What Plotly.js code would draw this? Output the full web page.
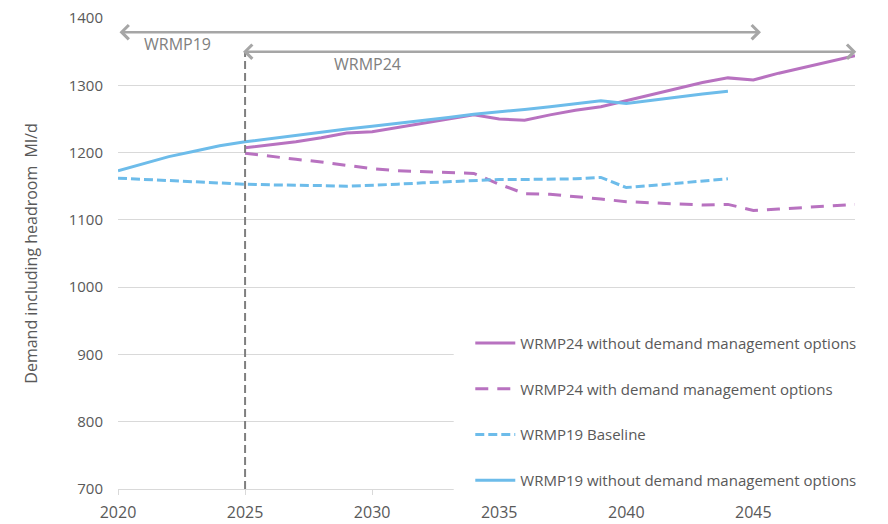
<!DOCTYPE html>
<html>
<head>
<meta charset="utf-8">
<script src="https://cdn.plot.ly/plotly-3.0.1.min.js"></script>
<style>
  html, body { margin: 0; padding: 0; background: #ffffff; }
  #chart { width: 888px; height: 524px; }
</style>
</head>
<body>
<div id="chart"></div>
<script>
// ---- Data ----
const years19 = [2020, 2021, 2022, 2023, 2024, 2025, 2026, 2027, 2028, 2029, 2030, 2031, 2032,
                 2033, 2034, 2035, 2036, 2037, 2038, 2039, 2040, 2041, 2042, 2043, 2044];
const wrmp19Without = [1173, 1184, 1194, 1202, 1210, 1216, 1221, 1226, 1231, 1235, 1239, 1243, 1247,
                       1252, 1257, 1260, 1264, 1268, 1272, 1277, 1273, 1278, 1282, 1287, 1291];
const wrmp19Baseline = [1162, 1160, 1158, 1156, 1154, 1153, 1152, 1152, 1151, 1150, 1151, 1153, 1155,
                        1157, 1159, 1160, 1160, 1160, 1161, 1163, 1148, 1151, 1154, 1157, 1161];

const years24 = [2025, 2026, 2027, 2028, 2029, 2030, 2031, 2032, 2033, 2034, 2035, 2036, 2037,
                 2038, 2039, 2040, 2041, 2042, 2043, 2044, 2045, 2046, 2047, 2048, 2049];
const wrmp24Without = [1207, 1211, 1216, 1222, 1229, 1231, 1237, 1243, 1249, 1256, 1250, 1248, 1256,
                       1263, 1268, 1277, 1286, 1295, 1304, 1311, 1308, 1318, 1327, 1336, 1344];
const wrmp24With = [1199, 1194, 1190, 1186, 1181, 1176, 1173, 1172, 1171, 1169, 1153, 1139, 1138,
                    1135, 1131, 1127, 1125, 1123, 1122, 1123, 1114, 1116, 1118, 1120, 1123];

const seriesNames = [
  'WRMP24 without demand management options',
  'WRMP24 with demand management options',
  'WRMP19 Baseline',
  'WRMP19 without demand management options'
];

// Planning-period arrows
const planLabels = ['WRMP19', 'WRMP24'];
const planStart = [2020, 2024.86];
const planEnd = [2045.3, 2049.05];
const planLevel = [1379, 1350];
const planLabelX = [2022.35, 2029.8];
const planLabelY = [1362, 1331];

// Divider at the start of WRMP24
const dividerYear = 2025;
const dividerTop = 1350;

// Axis ticks
const xTicks = [2020, 2025, 2030, 2035, 2040, 2045];
const yTicks = [700, 800, 900, 1000, 1100, 1200, 1300, 1400];

// ---- Styles ----
const purple = '#B872C0';
const blue = '#6DBCEA';
const font = 'Open Sans, Noto Sans, sans-serif';
const textGrey = '#595959';

const traces = [
  { x: years24, y: wrmp24Without, name: seriesNames[0], legendgroup: 'a',
    mode: 'lines', line: { color: purple, width: 3 } },
  { x: years24, y: wrmp24With, name: seriesNames[1], legendgroup: 'b',
    mode: 'lines', line: { color: purple, width: 3, dash: '13px,9px' } },
  { x: years19, y: wrmp19Baseline, name: seriesNames[2], legendgroup: 'c',
    mode: 'lines', line: { color: blue, width: 3, dash: '9px,4px' } },
  { x: years19, y: wrmp19Without, name: seriesNames[3], legendgroup: 'd',
    mode: 'lines', line: { color: blue, width: 3 } }
];

const annotations = [];
for (let i = 0; i < planLabels.length; i++) {
  annotations.push({
    x: planEnd[i], y: planLevel[i], ax: planStart[i], ay: planLevel[i],
    xref: 'x', yref: 'y', axref: 'x', ayref: 'y',
    text: '', showarrow: true, arrowside: 'end+start',
    arrowhead: 4, startarrowhead: 4, arrowsize: 1.1, startarrowsize: 1.1,
    arrowwidth: 2.5, arrowcolor: '#A6A6A6', standoff: 0, startstandoff: 0
  });
  annotations.push({
    x: planLabelX[i], y: planLabelY[i], xref: 'x', yref: 'y',
    text: planLabels[i], showarrow: false,
    font: { family: font, size: 16, color: '#808080' }
  });
}

const shapes = [
  { type: 'line', xref: 'x', yref: 'y', x0: dividerYear, x1: dividerYear, y0: 700, y1: dividerTop,
    line: { color: '#7F7F7F', width: 2, dash: '8px,4px' }, layer: 'above' },
  // white area behind the legend (covers gridlines, as in the original)
  { type: 'rect', xref: 'paper', yref: 'paper', x0: 0.4555, x1: 1.02, y0: -0.016, y1: 0.40,
    fillcolor: '#ffffff', line: { width: 0 }, layer: 'above' }
];

const layout = {
  width: 888, height: 524,
  margin: { l: 118, r: 33, t: 18, b: 35, pad: 0 },
  paper_bgcolor: '#ffffff', plot_bgcolor: '#ffffff',
  font: { family: font, color: textGrey },
  showlegend: true,
  legend: {
    x: 0.478, xanchor: 'left', y: 0.3446, yanchor: 'top',
    bgcolor: 'rgba(0,0,0,0)', borderwidth: 0,
    font: { family: font, size: 15, color: textGrey },
    traceorder: 'grouped', tracegroupgap: 23.3, itemwidth: 40
  },
  xaxis: {
    range: [2020, 2049], tickvals: xTicks, ticktext: xTicks.map(String),
    showgrid: false, zeroline: false,
    showline: true, linecolor: '#D9D9D9', linewidth: 1,
    ticks: 'outside', ticklen: 5, tickcolor: '#D9D9D9', tickwidth: 1,
    ticklabelstandoff: 4,
    tickfont: { family: font, size: 16, color: textGrey },
    fixedrange: true
  },
  yaxis: {
    range: [700, 1400], tickvals: yTicks,
    showgrid: true, gridcolor: '#D9D9D9', gridwidth: 1,
    zeroline: false, showline: false, ticks: '',
    ticklabelstandoff: 14,
    tickfont: { family: font, size: 15, color: textGrey },
    title: { text: 'Demand including headroom  Ml/d', standoff: 27,
             font: { family: font, size: 16, color: textGrey } },
    fixedrange: true
  },
  annotations: annotations,
  shapes: shapes
};

Plotly.newPlot('chart', traces, layout, { displayModeBar: false, staticPlot: true });
</script>
</body>
</html>
